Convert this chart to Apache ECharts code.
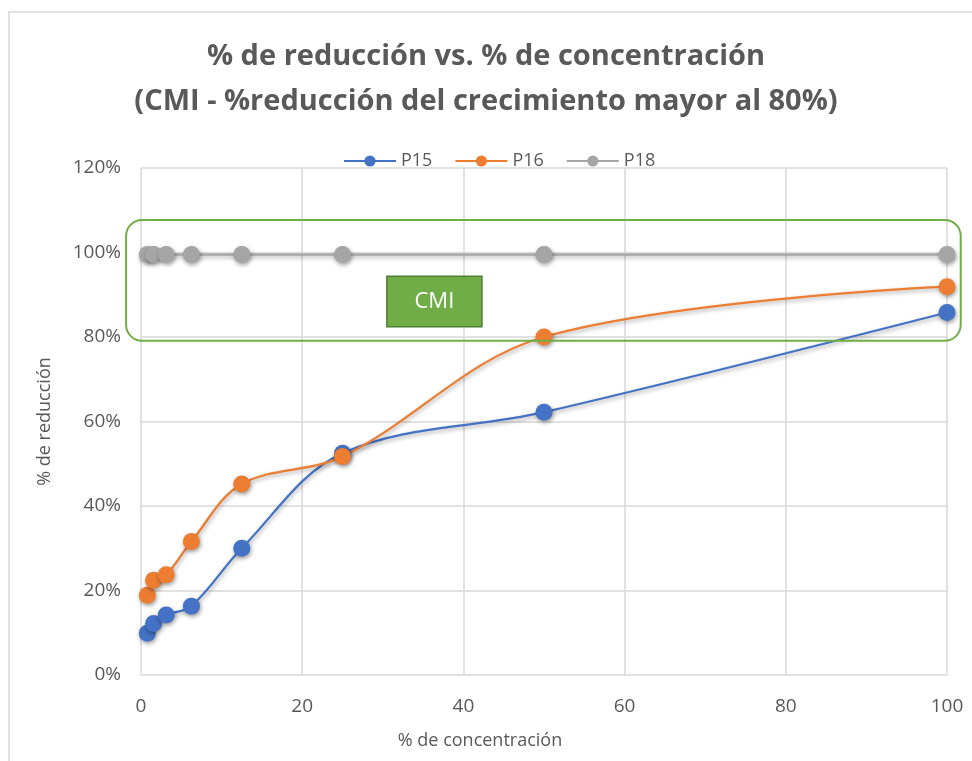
<!DOCTYPE html>
<html>
<head>
<meta charset="utf-8">
<script src="https://cdn.jsdelivr.net/npm/echarts@6/dist/echarts.min.js"></script>
<style>
  html, body { margin: 0; padding: 0; background: #fff; }
  #chart { width: 972px; height: 761px; }
</style>
</head>
<body>
<div id="chart"></div>
<script>
// Concentration (%) of each dilution step
const concentrations = [0.78, 1.56, 3.125, 6.25, 12.5, 25, 50, 100];
// Growth reduction (%) per strain
const p15 = [9.9, 12.2, 14.2, 16.3, 30.0, 52.5, 62.2, 85.8];
const p16 = [18.9, 22.4, 23.7, 31.6, 45.2, 51.7, 80.0, 91.9];
const p18 = [99.5, 99.5, 99.5, 99.5, 99.5, 99.5, 99.5, 99.5];
const seriesNames = ['P15', 'P16', 'P18'];
const seriesColors = ['#4472C4', '#ED7D31', '#A5A5A5'];
// CMI band (reduction above 80%) and its label box, in data units
const cmiBand = { x0: -1.85, x1: 101.7, y0: 107.7, y1: 79.1 };
const cmiLabelBox = { x0: 30.5, x1: 42.3, y0: 94.4, y1: 82.4 };

const font = '"Open Sans", "Liberation Sans", sans-serif';
const textGrey = '#595959';

function pairs(values) {
  return concentrations.map((c, i) => [c, values[i]]);
}

function makeSeries(name, values, color) {
  return {
    name: name,
    type: 'line',
    data: pairs(values),
    smooth: 0.35,
    symbol: 'circle',
    symbolSize: 17,
    lineStyle: {
      color: color, width: 2.25,
      shadowColor: 'rgba(0,0,0,0.35)', shadowBlur: 4, shadowOffsetX: 1, shadowOffsetY: 2
    },
    itemStyle: {
      color: color,
      shadowColor: 'rgba(0,0,0,0.4)', shadowBlur: 4, shadowOffsetX: 1, shadowOffsetY: 2
    },
    emphasis: { disabled: true },
    z: 3
  };
}

const chart = echarts.init(document.getElementById('chart'));

chart.setOption({
  animation: false,
  backgroundColor: '#fff',
  title: {
    text: '% de reducción vs. % de concentración\n(CMI - %reducción del crecimiento mayor al 80%)',
    left: 'center',
    top: 29,
    textStyle: {
      fontFamily: font, fontWeight: 'bold', fontSize: 29, color: textGrey, lineHeight: 45
    }
  },
  legend: {
    data: seriesNames,
    top: 147,
    left: 338,
    itemWidth: 52,
    itemHeight: 14,
    itemGap: 22,
    textStyle: { fontFamily: font, fontSize: 18, color: textGrey }
  },
  grid: { left: 141, right: 25, top: 168, bottom: 86, containLabel: false },
  xAxis: {
    type: 'value',
    min: 0, max: 100, interval: 20,
    name: '% de concentración',
    nameLocation: 'middle',
    nameGap: 57,
    nameTextStyle: { fontFamily: font, fontSize: 18, color: textGrey, padding: [0, 128, 0, 0] },
    axisLine: { show: false },
    axisTick: { show: false },
    axisLabel: { fontFamily: font, fontSize: 19, color: textGrey, margin: 22 },
    splitLine: { show: true, lineStyle: { color: '#D9D9D9', width: 1.5 } }
  },
  yAxis: {
    type: 'value',
    min: 0, max: 120, interval: 20,
    name: '% de reducción',
    nameLocation: 'middle',
    nameGap: 87,
    nameTextStyle: { fontFamily: font, fontSize: 18, color: textGrey },
    axisLine: { show: false },
    axisTick: { show: false },
    axisLabel: { fontFamily: font, fontSize: 19, color: textGrey, margin: 20, formatter: '{value}%' },
    splitLine: { show: true, lineStyle: { color: '#D9D9D9', width: 1.5 } }
  },
  series: [
    makeSeries(seriesNames[0], p15, seriesColors[0]),
    makeSeries(seriesNames[1], p16, seriesColors[1]),
    makeSeries(seriesNames[2], p18, seriesColors[2])
  ]
});

// Annotation shapes placed through the axis scales
function toPx(x, y) {
  return chart.convertToPixel({ gridIndex: 0 }, [x, y]);
}
const b0 = toPx(cmiBand.x0, cmiBand.y0);
const b1 = toPx(cmiBand.x1, cmiBand.y1);
const l0 = toPx(cmiLabelBox.x0, cmiLabelBox.y0);
const l1 = toPx(cmiLabelBox.x1, cmiLabelBox.y1);

chart.setOption({
  graphic: [
    {
      type: 'rect', silent: true, z: -10,
      shape: { x: 9, y: 12, width: 1000, height: 800 },
      style: { fill: 'none', stroke: '#D9D9D9', lineWidth: 1.5 }
    },
    {
      type: 'rect', silent: true, z: 10,
      shape: { x: b0[0], y: b0[1], width: b1[0] - b0[0], height: b1[1] - b0[1], r: 16 },
      style: { fill: 'none', stroke: '#70AD47', lineWidth: 2 }
    },
    {
      type: 'rect', silent: true, z: 10,
      shape: { x: l0[0], y: l0[1], width: l1[0] - l0[0], height: l1[1] - l0[1] },
      style: { fill: '#70AD47', stroke: '#507E32', lineWidth: 1.5 }
    },
    {
      type: 'text', silent: true, z: 11,
      x: (l0[0] + l1[0]) / 2, y: (l0[1] + l1[1]) / 2,
      style: {
        text: 'CMI', fill: '#fff', font: '22px ' + font,
        align: 'center', verticalAlign: 'middle'
      }
    }
  ]
});
</script>
</body>
</html>
